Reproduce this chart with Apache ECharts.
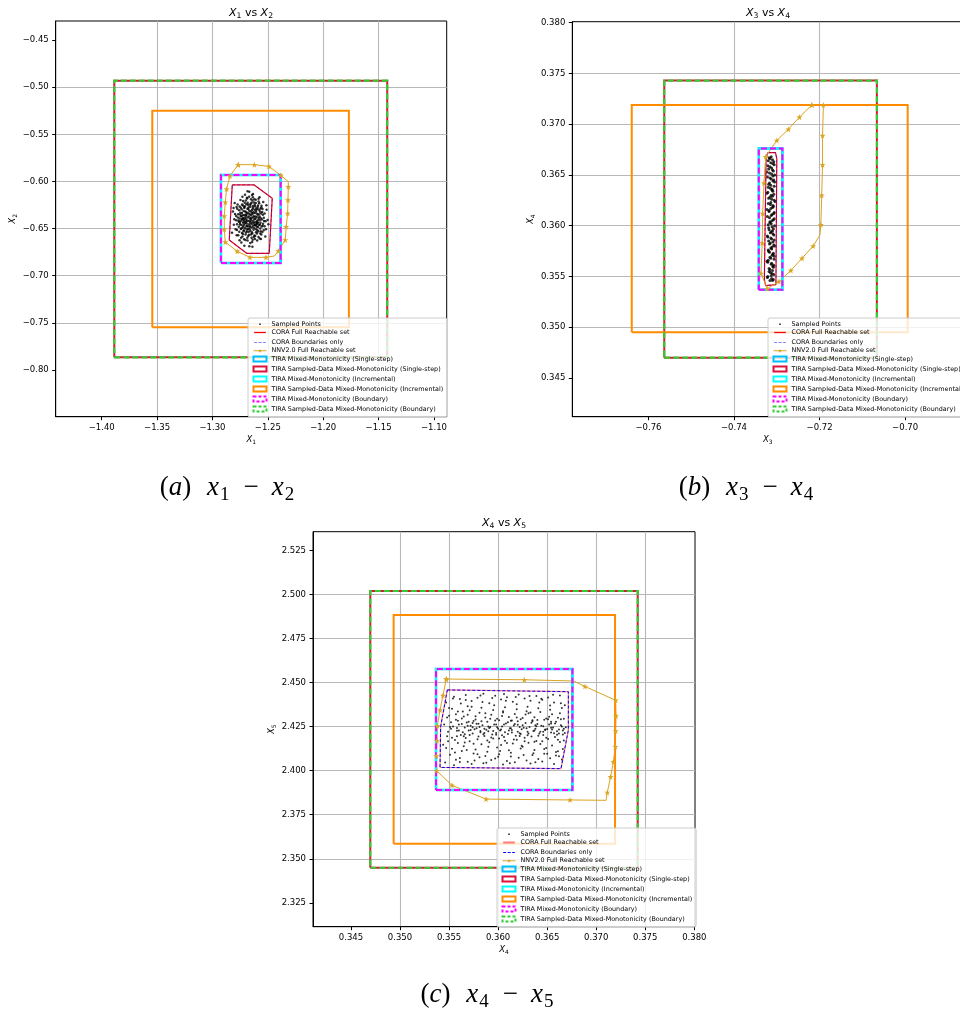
<!DOCTYPE html>
<html><head><meta charset="utf-8">
<script src="https://cdn.jsdelivr.net/npm/echarts@6/dist/echarts.min.js"></script>
<style>html,body{margin:0;padding:0;background:#fff}#c{width:960px;height:1013px}</style>
</head><body><div id="c"></div><script>
const SERIES_NAMES = ['Sampled Points','CORA Full Reachable set','CORA Boundaries only','NNV2.0 Full Reachable set',
 'TIRA Mixed-Monotonicity (Single-step)','TIRA Sampled-Data Mixed-Monotonicity (Single-step)',
 'TIRA Mixed-Monotonicity (Incremental)','TIRA Sampled-Data Mixed-Monotonicity (Incremental)',
 'TIRA Mixed-Monotonicity (Boundary)','TIRA Sampled-Data Mixed-Monotonicity (Boundary)'];

// ---------- Panel (a): x1 vs x2 ----------
const A_X_RANGE = [-1.4415, -1.0885];
const A_Y_RANGE = [-0.8495, -0.4298];
const A_X_TICKS = [-1.40, -1.35, -1.30, -1.25, -1.20, -1.15, -1.10];
const A_Y_TICKS = [-0.80, -0.75, -0.70, -0.65, -0.60, -0.55, -0.50, -0.45];
const A_POINTS = [[-1.2655,-0.6395],[-1.2712,-0.6281],[-1.2598,-0.6452],[-1.2743,-0.6503],[-1.2571,-0.6322],[-1.2689,-0.6174],[-1.2627,-0.6588],[-1.2786,-0.6366],[-1.2534,-0.6419],[-1.2661,-0.6247],[-1.2702,-0.6621],[-1.2583,-0.6213],[-1.2755,-0.6265],[-1.2549,-0.6537],[-1.2678,-0.6478],[-1.2619,-0.6335],[-1.2731,-0.6402],[-1.2642,-0.6143],[-1.2807,-0.6459],[-1.2511,-0.6301],[-1.2695,-0.6354],[-1.2606,-0.6506],[-1.2667,-0.6687],[-1.2724,-0.6208],[-1.2563,-0.6391],[-1.2781,-0.6571],[-1.2637,-0.6432],[-1.2591,-0.6268],[-1.2748,-0.6331],[-1.2529,-0.6474],[-1.2683,-0.6105],[-1.2652,-0.6562],[-1.2716,-0.6517],[-1.2574,-0.6605],[-1.2799,-0.6228],[-1.2622,-0.6189],[-1.2707,-0.6446],[-1.2545,-0.6352],[-1.2676,-0.6293],[-1.2611,-0.6395],[-1.2765,-0.6413],[-1.2588,-0.6483],[-1.2641,-0.6641],[-1.2729,-0.6583],[-1.2502,-0.6408],[-1.2694,-0.6241],[-1.2557,-0.6257],[-1.2815,-0.6318],[-1.2633,-0.6279],[-1.2672,-0.6533],[-1.2598,-0.6551],[-1.2738,-0.6462],[-1.2523,-0.6585],[-1.2669,-0.6161],[-1.2776,-0.6289],[-1.2614,-0.6458],[-1.2701,-0.6378],[-1.2566,-0.6437],[-1.2647,-0.6226],[-1.2755,-0.6624],[-1.2582,-0.6349],[-1.2719,-0.6313],[-1.2629,-0.6512],[-1.2541,-0.6219],[-1.2791,-0.6507],[-1.2685,-0.6596],[-1.2603,-0.6302],[-1.2747,-0.6197],[-1.2517,-0.6506],[-1.2661,-0.6425],[-1.2712,-0.6681],[-1.2575,-0.6168],[-1.2688,-0.6467],[-1.2618,-0.6246],[-1.2768,-0.6349],[-1.2536,-0.6386],[-1.2655,-0.6319],[-1.2733,-0.6547],[-1.2596,-0.6626],[-1.2803,-0.6402],[-1.2643,-0.6487],[-1.2559,-0.6563],[-1.2706,-0.6142],[-1.2627,-0.6369],[-1.2762,-0.6481],[-1.2548,-0.6291],[-1.2681,-0.6381],[-1.2609,-0.6195],[-1.2726,-0.6254],[-1.2495,-0.6455],[-1.2658,-0.6652],[-1.2786,-0.6412],[-1.2585,-0.6404],[-1.2697,-0.6541],[-1.2634,-0.6134],[-1.2744,-0.6369],[-1.2568,-0.6498],[-1.2673,-0.6274],[-1.2621,-0.6574],[-1.2773,-0.6243],[-1.2529,-0.6339],[-1.2665,-0.6508],[-1.2718,-0.6421],[-1.2592,-0.6289],[-1.2652,-0.6188],[-1.2739,-0.6648],[-1.2555,-0.6477],[-1.2694,-0.6325],[-1.2613,-0.6429],[-1.2823,-0.6544],[-1.2578,-0.6232],[-1.2705,-0.6494],[-1.2638,-0.6345],[-1.2758,-0.6532],[-1.2513,-0.6252],[-1.2671,-0.6566],[-1.2601,-0.6378],[-1.2729,-0.6163],[-1.2646,-0.6451],[-1.2782,-0.6272],[-1.2562,-0.6611],[-1.2687,-0.6413],[-1.2625,-0.6223],[-1.2711,-0.6356],[-1.2543,-0.6448],[-1.2667,-0.6108],[-1.2751,-0.6437],[-1.2589,-0.6531],[-1.2639,-0.6692],[-1.2722,-0.6478],[-1.2574,-0.6371],[-1.2796,-0.6345],[-1.2657,-0.6268],[-1.2607,-0.6467],[-1.2736,-0.6296],[-1.2521,-0.6423],[-1.2683,-0.6627],[-1.2631,-0.6415],[-1.2767,-0.6571],[-1.2584,-0.6183],[-1.2699,-0.6203],[-1.2551,-0.6324],[-1.2644,-0.6538],[-1.2714,-0.6391],[-1.2596,-0.6432],[-1.2778,-0.6453],[-1.2675,-0.6336],[-1.2618,-0.6299],[-1.2741,-0.6596],[-1.2537,-0.6517],[-1.2662,-0.6471],[-1.2708,-0.6264],[-1.2579,-0.6462],[-1.2652,-0.6358],[-1.2809,-0.6281],[-1.2617,-0.6611],[-1.2692,-0.6442],[-1.2566,-0.6287],[-1.2724,-0.6359],[-1.2635,-0.6259],[-1.2754,-0.6392],[-1.2601,-0.6341],[-1.2679,-0.6503],
[-1.2651,-0.6412],[-1.2689,-0.6338],[-1.2612,-0.6371],[-1.2703,-0.6432],[-1.2638,-0.6296],[-1.2597,-0.6418],[-1.2726,-0.6387],[-1.2669,-0.6453],[-1.2623,-0.6492],[-1.2711,-0.6271],[-1.2582,-0.6386],[-1.2746,-0.6421],[-1.2654,-0.6237],[-1.2691,-0.6509],[-1.2607,-0.6318],[-1.2733,-0.6334],[-1.2641,-0.6552],[-1.2571,-0.6459],[-1.2698,-0.6399],[-1.2627,-0.6441],[-1.2682,-0.6227],[-1.2593,-0.6517],[-1.2717,-0.6463],[-1.2648,-0.6384],[-1.2759,-0.6305],[-1.2616,-0.6262],[-1.2676,-0.6579],[-1.2561,-0.6341],[-1.2705,-0.6318],[-1.2634,-0.6471],[-1.2741,-0.6498],[-1.2589,-0.6256],[-1.2663,-0.6349],[-1.2725,-0.6558],[-1.2606,-0.6539],[-1.2686,-0.6181],[-1.2553,-0.6404],[-1.2645,-0.6307],[-1.2771,-0.6382],[-1.2619,-0.6398],[-1.2692,-0.6476],[-1.2577,-0.6302],[-1.2732,-0.6243],[-1.2657,-0.6524],[-1.2601,-0.6446],[-1.2715,-0.6405],[-1.2639,-0.6203],[-1.2752,-0.6456],[-1.2584,-0.6588],[-1.2673,-0.6419],[-1.2628,-0.6327],[-1.2701,-0.6562],[-1.2565,-0.6529],[-1.2737,-0.6367],[-1.2647,-0.6597],[-1.2609,-0.6229],[-1.2684,-0.6289],[-1.2723,-0.6439],[-1.2591,-0.6353],[-1.2661,-0.6393],[-1.2779,-0.6515],[-1.2635,-0.6168],[-1.2696,-0.6361],[-1.2547,-0.6471],[-1.2714,-0.6613],[-1.2621,-0.6463],[-1.2668,-0.6311],[-1.2744,-0.6279],[-1.2599,-0.6481],[-1.2656,-0.6437],[-1.2709,-0.6226],[-1.2573,-0.6412],[-1.2687,-0.6531],[-1.2632,-0.6381],[-1.2762,-0.6428],[-1.2614,-0.6579],[-1.2679,-0.6248],[-1.2558,-0.6276],[-1.2728,-0.6491],[-1.2643,-0.6334],[-1.2696,-0.6423],[-1.2587,-0.6437],[-1.2749,-0.6351],[-1.2659,-0.6486],[-1.2604,-0.6285],[-1.2719,-0.6529],[-1.2637,-0.6617],[-1.2672,-0.6372],[-1.2568,-0.6551],[-1.2735,-0.6403]];
const A_CORA = [[-1.2821,-0.6037],[-1.2623,-0.6037],[-1.2460,-0.6179],[-1.2487,-0.6762],[-1.2691,-0.6762],[-1.2848,-0.6621]];
const A_NNV = [[-1.2767,-0.5822],[-1.2622,-0.5822],[-1.2490,-0.5840],[-1.2382,-0.5935],[-1.2315,-0.6002],[-1.2315,-0.6055],[-1.2318,-0.6197],[-1.2321,-0.6338],[-1.2334,-0.6480],[-1.2343,-0.6621],[-1.2406,-0.6738],[-1.2440,-0.6790],[-1.2517,-0.6805],[-1.2661,-0.6805],[-1.2776,-0.6741],[-1.2884,-0.6642],[-1.2893,-0.6508],[-1.2893,-0.6366],[-1.2884,-0.6221],[-1.2872,-0.6080],[-1.2842,-0.5942]];
const A_NNV_BENDS = [4, 11];
const A_MM_SINGLE = [-1.2923, -1.2384, -0.6865, -0.5931];
const A_SD_SINGLE = [-1.3886, -1.1422, -0.7865, -0.4931];
const A_MM_INCR = [-1.2923, -1.2384, -0.6865, -0.5931];
const A_SD_INCR = [-1.3543, -1.1768, -0.7547, -0.5249];
const A_MM_BOUND = [-1.2923, -1.2384, -0.6865, -0.5931];
const A_SD_BOUND = [-1.3886, -1.1422, -0.7865, -0.4931];

// ---------- Panel (b): x3 vs x4 ----------
const B_X_RANGE = [-0.7778, -0.6864];
const B_Y_RANGE = [0.34119, 0.3801];
const B_X_TICKS = [-0.76, -0.74, -0.72, -0.70];
const B_Y_TICKS = [0.345, 0.350, 0.355, 0.360, 0.365, 0.370, 0.375, 0.380];
const B_POINTS = [[-0.7318,0.3667],[-0.7310,0.3665],[-0.7314,0.3662],[-0.7306,0.3660],[-0.7321,0.3659],[-0.7312,0.3657],[-0.7308,0.3654],[-0.7317,0.3652],[-0.7305,0.3650],[-0.7322,0.3648],[-0.7313,0.3646],[-0.7309,0.3644],[-0.7319,0.3641],[-0.7306,0.3639],[-0.7315,0.3637],[-0.7311,0.3635],[-0.7323,0.3632],[-0.7307,0.3631],[-0.7316,0.3628],[-0.7312,0.3626],[-0.7304,0.3624],[-0.7320,0.3622],[-0.7309,0.3620],[-0.7314,0.3617],[-0.7318,0.3615],[-0.7306,0.3613],[-0.7311,0.3611],[-0.7322,0.3609],[-0.7308,0.3606],[-0.7316,0.3604],[-0.7313,0.3602],[-0.7305,0.3600],[-0.7319,0.3598],[-0.7310,0.3595],[-0.7315,0.3593],[-0.7307,0.3591],[-0.7321,0.3589],[-0.7312,0.3587],[-0.7309,0.3584],[-0.7317,0.3582],[-0.7305,0.3580],[-0.7314,0.3578],[-0.7320,0.3576],[-0.7308,0.3573],[-0.7311,0.3571],[-0.7316,0.3569],[-0.7306,0.3567],[-0.7323,0.3565],[-0.7313,0.3562],[-0.7309,0.3560],[-0.7318,0.3558],[-0.7310,0.3556],[-0.7315,0.3554],[-0.7307,0.3552],[-0.7321,0.3550],[-0.7312,0.3548],[-0.7316,0.3546],[-0.7313,0.3668],[-0.7320,0.3664],[-0.7307,0.3663],[-0.7316,0.3658],[-0.7310,0.3655],[-0.7323,0.3653],[-0.7309,0.3649],[-0.7316,0.3647],[-0.7305,0.3643],[-0.7314,0.3640],[-0.7320,0.3638],[-0.7309,0.3634],[-0.7313,0.3630],[-0.7319,0.3627],[-0.7306,0.3625],[-0.7315,0.3621],[-0.7310,0.3618],[-0.7323,0.3616],[-0.7307,0.3612],[-0.7317,0.3608],[-0.7311,0.3605],[-0.7320,0.3601],[-0.7308,0.3597],[-0.7313,0.3594],[-0.7322,0.3590],[-0.7306,0.3586],[-0.7315,0.3583],[-0.7311,0.3579],[-0.7319,0.3575],[-0.7309,0.3572],[-0.7314,0.3568],[-0.7321,0.3564],[-0.7307,0.3561],[-0.7316,0.3557],[-0.7311,0.3553],[-0.7322,0.3549],[-0.7308,0.3547],[-0.7316,0.3666],[-0.7309,0.3661],[-0.7319,0.3656],[-0.7312,0.3651],[-0.7307,0.3645],[-0.7317,0.3642],[-0.7311,0.3636],[-0.7321,0.3633],[-0.7310,0.3629],[-0.7314,0.3623],[-0.7308,0.3619],[-0.7318,0.3614],[-0.7313,0.3610],[-0.7306,0.3607],[-0.7316,0.3603],[-0.7311,0.3599],[-0.7318,0.3596],[-0.7309,0.3592],[-0.7314,0.3588],[-0.7319,0.3585],[-0.7307,0.3581],[-0.7312,0.3577],[-0.7317,0.3574],[-0.7306,0.3570],[-0.7320,0.3566],[-0.7312,0.3563],[-0.7308,0.3559],[-0.7318,0.3555],[-0.7313,0.3551],[-0.7310,0.3546]];
const B_CORA = [[-0.7321,0.3672],[-0.7303,0.3672],[-0.7300,0.3666],[-0.7302,0.3542],[-0.7326,0.3541],[-0.7329,0.3547],[-0.7325,0.3667]];
const B_NNV = [[-0.7218,0.3719],[-0.7191,0.3719],[-0.7193,0.3689],[-0.7193,0.3660],[-0.7195,0.3630],[-0.7197,0.3601],[-0.7199,0.3591],[-0.7215,0.3580],[-0.7241,0.3568],[-0.7267,0.3556],[-0.7295,0.3545],[-0.7322,0.3538],[-0.7337,0.3553],[-0.7334,0.3583],[-0.7333,0.3612],[-0.7330,0.3642],[-0.7326,0.3668],[-0.7300,0.3684],[-0.7273,0.3695],[-0.7247,0.3707]];
const B_NNV_BENDS = [6];
const B_MM_SINGLE = [-0.7342, -0.7287, 0.3537, 0.3676];
const B_SD_SINGLE = [-0.7563, -0.7066, 0.3470, 0.3743];
const B_MM_INCR = [-0.7342, -0.7287, 0.3537, 0.3676];
const B_SD_INCR = [-0.7639, -0.6994, 0.3495, 0.3719];
const B_MM_BOUND = [-0.7342, -0.7287, 0.3537, 0.3676];
const B_SD_BOUND = [-0.7563, -0.7066, 0.3470, 0.3743];

// ---------- Panel (c): x4 vs x5 ----------
const C_X_RANGE = [0.34113, 0.38007];
const C_Y_RANGE = [2.3114, 2.5358];
const C_X_TICKS = [0.345, 0.350, 0.355, 0.360, 0.365, 0.370, 0.375, 0.380];
const C_Y_TICKS = [2.325, 2.350, 2.375, 2.400, 2.425, 2.450, 2.475, 2.500, 2.525];
const C_POINTS = [[0.3547,2.4387],[0.3550,2.4312],[0.3545,2.4263],[0.3552,2.4238],[0.3548,2.4196],[0.3544,2.4148],[0.3551,2.4091],[0.3546,2.4047],
[0.3555,2.4421],[0.3553,2.4352],[0.3557,2.4289],[0.3554,2.4251],[0.3558,2.4227],[0.3556,2.4174],[0.3553,2.4125],[0.3557,2.4063],[0.3555,2.4031],
[0.3561,2.4408],[0.3559,2.4336],[0.3563,2.4297],[0.3560,2.4262],[0.3564,2.4219],[0.3562,2.4203],[0.3559,2.4158],[0.3563,2.4112],[0.3561,2.4072],
[0.3567,2.4431],[0.3569,2.4367],[0.3565,2.4308],[0.3568,2.4274],[0.3566,2.4245],[0.3570,2.4229],[0.3567,2.4186],[0.3565,2.4139],[0.3569,2.4051],
[0.3573,2.4396],[0.3571,2.4343],[0.3575,2.4283],[0.3572,2.4256],[0.3576,2.4236],[0.3574,2.4212],[0.3571,2.4167],[0.3575,2.4098],[0.3573,2.4038],
[0.3579,2.4415],[0.3581,2.4329],[0.3577,2.4291],[0.3580,2.4267],[0.3578,2.4242],[0.3582,2.4218],[0.3579,2.4179],[0.3577,2.4121],[0.3581,2.4077],
[0.3585,2.4437],[0.3583,2.4358],[0.3587,2.4302],[0.3584,2.4259],[0.3588,2.4233],[0.3586,2.4197],[0.3583,2.4151],[0.3587,2.4084],[0.3585,2.4043],
[0.3591,2.4383],[0.3593,2.4318],[0.3589,2.4279],[0.3592,2.4248],[0.3590,2.4224],[0.3594,2.4206],[0.3591,2.4162],[0.3589,2.4108],[0.3593,2.4061],
[0.3597,2.4426],[0.3595,2.4345],[0.3599,2.4296],[0.3596,2.4263],[0.3600,2.4239],[0.3598,2.4215],[0.3595,2.4183],[0.3599,2.4132],[0.3597,2.4069],
[0.3603,2.4405],[0.3605,2.4331],[0.3601,2.4287],[0.3604,2.4252],[0.3602,2.4228],[0.3606,2.4191],[0.3603,2.4146],[0.3601,2.4093],[0.3605,2.4036],
[0.3609,2.4418],[0.3607,2.4361],[0.3611,2.4306],[0.3608,2.4269],[0.3612,2.4241],[0.3610,2.4209],[0.3607,2.4171],[0.3611,2.4117],[0.3609,2.4056],
[0.3615,2.4392],[0.3617,2.4323],[0.3613,2.4284],[0.3616,2.4257],[0.3614,2.4232],[0.3618,2.4199],[0.3615,2.4155],[0.3613,2.4102],[0.3617,2.4048],
[0.3621,2.4433],[0.3619,2.4349],[0.3623,2.4293],[0.3620,2.4261],[0.3624,2.4236],[0.3622,2.4213],[0.3619,2.4176],[0.3623,2.4127],[0.3621,2.4074],
[0.3627,2.4411],[0.3629,2.4338],[0.3625,2.4299],[0.3628,2.4271],[0.3626,2.4244],[0.3630,2.4221],[0.3627,2.4188],[0.3625,2.4136],[0.3629,2.4058],
[0.3633,2.4398],[0.3631,2.4327],[0.3635,2.4281],[0.3632,2.4249],[0.3636,2.4226],[0.3634,2.4194],[0.3631,2.4159],[0.3635,2.4089],[0.3633,2.4041],
[0.3639,2.4424],[0.3641,2.4355],[0.3637,2.4304],[0.3640,2.4266],[0.3638,2.4238],[0.3642,2.4211],[0.3639,2.4169],[0.3637,2.4118],[0.3641,2.4066],
[0.3645,2.4403],[0.3643,2.4334],[0.3647,2.4289],[0.3644,2.4255],[0.3648,2.4231],[0.3646,2.4203],[0.3643,2.4152],[0.3647,2.4097],[0.3645,2.4052],
[0.3651,2.4416],[0.3653,2.4346],[0.3649,2.4297],[0.3652,2.4262],[0.3650,2.4237],[0.3654,2.4217],[0.3651,2.4181],[0.3649,2.4129],[0.3653,2.4071],
[0.3657,2.4388],[0.3655,2.4321],[0.3659,2.4278],[0.3656,2.4246],[0.3660,2.4225],[0.3658,2.4192],[0.3655,2.4143],[0.3659,2.4086],[0.3657,2.4039],
[0.3663,2.4427],[0.3665,2.4357],[0.3661,2.4301],[0.3664,2.4259],[0.3662,2.4234],[0.3666,2.4206],[0.3663,2.4163],[0.3661,2.4111],[0.3665,2.4064],
[0.3668,2.4372],[0.3667,2.4296],[0.3669,2.4247],[0.3668,2.4215],[0.3667,2.4172],[0.3666,2.4123],
[0.3549,2.4221],[0.3558,2.4243],[0.3566,2.4208],[0.3574,2.4271],[0.3582,2.4226],[0.3590,2.4251],[0.3598,2.4204],[0.3606,2.4263],[0.3614,2.4217],[0.3622,2.4248],[0.3630,2.4202],[0.3638,2.4259],[0.3646,2.4221],[0.3654,2.4244],[0.3662,2.4211],[0.3552,2.4275],[0.3569,2.4256],[0.3586,2.4214],[0.3603,2.4235],[0.3620,2.4281],[0.3637,2.4229],[0.3654,2.4268],[0.3667,2.4238],
[0.3548,2.4302],[0.3553,2.4187],[0.3557,2.4321],[0.3560,2.4229],[0.3563,2.4265],[0.3566,2.4161],[0.3569,2.4318],[0.3571,2.4203],[0.3574,2.4247],[0.3577,2.4309],[0.3580,2.4194],[0.3583,2.4281],[0.3586,2.4238],[0.3589,2.4172],[0.3592,2.4295],[0.3595,2.4226],[0.3598,2.4262],[0.3601,2.4183],[0.3604,2.4311],[0.3607,2.4219],[0.3610,2.4276],[0.3613,2.4241],[0.3616,2.4178],[0.3619,2.4302],[0.3622,2.4197],[0.3625,2.4258],[0.3628,2.4319],[0.3631,2.4212],[0.3634,2.4273],[0.3637,2.4165],[0.3640,2.4288],[0.3643,2.4222],[0.3646,2.4253],[0.3649,2.4187],[0.3652,2.4307],[0.3655,2.4235],[0.3658,2.4269],[0.3661,2.4176],[0.3664,2.4292],[0.3666,2.4228],
[0.3550,2.4356],[0.3556,2.4103],[0.3562,2.4382],[0.3568,2.4118],[0.3573,2.4364],[0.3579,2.4093],[0.3584,2.4391],[0.3590,2.4137],[0.3596,2.4372],[0.3602,2.4112],[0.3608,2.4397],[0.3613,2.4081],[0.3619,2.4378],[0.3624,2.4142],[0.3630,2.4363],[0.3636,2.4099],[0.3642,2.4388],[0.3647,2.4124],[0.3653,2.4371],[0.3659,2.4107],[0.3664,2.4384],
[0.3551,2.4249],[0.3559,2.4284],[0.3565,2.4196],[0.3572,2.4231],[0.3578,2.4267],[0.3585,2.4208],[0.3591,2.4243],[0.3597,2.4285],[0.3604,2.4201],[0.3611,2.4228],[0.3617,2.4266],[0.3623,2.4209],[0.3629,2.4241],[0.3635,2.4287],[0.3641,2.4199],[0.3648,2.4234],[0.3654,2.4279],[0.3660,2.4205],[0.3665,2.4252],
[0.3547,2.4129],[0.3554,2.4411],[0.3561,2.4049],[0.3567,2.4402],[0.3576,2.4058],[0.3582,2.4428],[0.3588,2.4046],[0.3594,2.4413],[0.3600,2.4079],[0.3606,2.4436],[0.3612,2.4042],[0.3618,2.4419],[0.3626,2.4089],[0.3632,2.4425],[0.3638,2.4048],[0.3644,2.4409],[0.3650,2.4096],[0.3656,2.4432],[0.3662,2.4083],
[0.3549,2.4168],[0.3558,2.4196],[0.3564,2.4337],[0.3570,2.4279],[0.3575,2.4154],[0.3581,2.4249],[0.3587,2.4326],[0.3593,2.4189],[0.3599,2.4247],[0.3605,2.4338],[0.3609,2.4158],[0.3614,2.4286],[0.3620,2.4222],[0.3627,2.4167],[0.3633,2.4331],[0.3639,2.4253],[0.3645,2.4168],[0.3651,2.4292],[0.3657,2.4213],[0.3663,2.4327]];
const C_CORA = [[0.35482,2.4459],[0.36716,2.4449],[0.36716,2.4231],[0.36641,2.4012],[0.35408,2.4019],[0.35414,2.4250]];
const C_NNV = [[0.35472,2.4521],[0.36267,2.4517],[0.36767,2.4510],[0.36886,2.4479],[0.37198,2.4400],[0.37202,2.4311],[0.37198,2.4226],[0.37195,2.4137],[0.37175,2.4051],[0.37147,2.3966],[0.37113,2.3877],[0.37100,2.3832],[0.36733,2.3834],[0.35877,2.3839],[0.35530,2.3917],[0.35374,2.4000],[0.35370,2.4084],[0.35377,2.4171],[0.35381,2.4256],[0.35408,2.4345],[0.35438,2.4428]];
const C_NNV_BENDS = [2, 11];
const C_MM_SINGLE = [0.35367, 0.36757, 2.3890, 2.4578];
const C_SD_SINGLE = [0.34697, 0.37423, 2.3449, 2.5021];
const C_MM_INCR = [0.35367, 0.36757, 2.3890, 2.4578];
const C_SD_INCR = [0.34935, 0.37192, 2.3585, 2.4885];
const C_MM_BOUND = [0.35367, 0.36757, 2.3890, 2.4578];
const C_SD_BOUND = [0.34697, 0.37423, 2.3449, 2.5021];

// ---------- styling ----------
const FONT = 'DejaVu Sans';
const STAR = 'path://M0,-10L2.35,-3.24L9.51,-3.09L3.8,1.24L5.88,8.09L0,4L-5.88,8.09L-3.8,1.24L-9.51,-3.09L-2.35,-3.24Z';
const DOT_ICON = 'path://M0,0M14,6M6,2L8,2L8,4L6,4Z';
const LINE_ICON = 'path://M0,0M0,6M0,3L14,3';
const NNV_COLOR = '#daa520';
const BOX_STYLES = [
  {color:'#00bfff', width:2.5, type:'solid'},
  {color:'#dc143c', width:2, type:'solid'},
  {color:'#00ffff', width:2, type:'solid'},
  {color:'#ff8c00', width:2, type:'solid'},
  {color:'#ff00ff', width:2, type:[6,3]},
  {color:'#32cd32', width:2.2, type:[6,3]}
];

function rect(b){ return [[b[0],b[2]],[b[1],b[2]],[b[1],b[3]],[b[0],b[3]],[b[0],b[2]]]; }
function closed(p){ return p.concat([p[0]]); }

function panelSeries(g, P){
  const ax = {xAxisIndex:g, yAxisIndex:g, silent:true, animation:false};
  const s = [];
  s.push(Object.assign({type:'scatter', name:SERIES_NAMES[0], data:P.points, symbol:'circle', symbolSize:P.dot, itemStyle:{color:'#000'}}, ax));
  s.push(Object.assign({type:'line', name:SERIES_NAMES[1], data:closed(P.cora), symbol:'none', lineStyle:{color:P.coraFull, width:1.2}}, ax));
  s.push(Object.assign({type:'line', name:SERIES_NAMES[2], data:closed(P.cora), symbol:'none', lineStyle:{color:P.coraBound, width:1, type:[3,2]}}, ax));
  const nnv = closed(P.nnv).map((p,i)=> P.bends.indexOf(i) >= 0 ? {value:p, symbol:'none'} : p);
  s.push(Object.assign({type:'line', name:SERIES_NAMES[3], data:nnv, symbol:STAR, symbolSize:6, showSymbol:true,
    lineStyle:{color:NNV_COLOR, width:1}, itemStyle:{color:NNV_COLOR}}, ax));
  P.boxes.forEach((b, k)=>{
    const st = BOX_STYLES[k];
    s.push(Object.assign({type:'line', name:SERIES_NAMES[4+k], data:rect(b), symbol:'none',
      lineStyle:{color:st.color, width:st.width, type:st.type, join:'miter'}}, ax));
  });
  return s;
}

function legendData(coraFull, coraFullW, coraBound){
  const d = [
    {name:SERIES_NAMES[0], icon:DOT_ICON, itemStyle:{color:'#000', borderWidth:0}},
    {name:SERIES_NAMES[1], icon:LINE_ICON, itemStyle:{color:'none', borderColor:coraFull, borderWidth:coraFullW}},
    {name:SERIES_NAMES[2], icon:LINE_ICON, itemStyle:{color:'none', borderColor:coraBound, borderWidth:1.2, borderType:[3,1.5]}},
    {name:SERIES_NAMES[3], lineStyle:{color:NNV_COLOR, width:1}, itemStyle:{color:NNV_COLOR, borderWidth:0}}
  ];
  BOX_STYLES.forEach((st,k)=>{
    d.push({name:SERIES_NAMES[4+k], icon:'rect', itemStyle:{color:'none', borderColor:st.color, borderWidth:2,
      borderType: st.type === 'solid' ? 'solid' : [3,2]}});
  });
  return d;
}

function legendAt(left, top, data){
  return {left, top, orient:'vertical', itemWidth:13, itemHeight:5, itemGap:0, padding:[3,4,3,3],
    selectedMode:false, backgroundColor:'rgba(255,255,255,0.8)', borderColor:'#cccccc', borderWidth:1, borderRadius:2,
    textStyle:{fontSize:6.4, lineHeight:6.5, fontFamily:FONT, color:'#000'}, data};
}

const subRich = (fs) => ({
  i:{fontStyle:'italic', fontSize:fs, fontFamily:FONT, color:'#000', lineHeight:fs*1.3},
  s:{fontSize:fs*0.7, fontFamily:FONT, color:'#000', lineHeight:fs*0.7, verticalAlign:'bottom'}
});

function fmt(dec){
  return function(v){
    const t = Math.abs(v).toFixed(dec);
    return (v < -1e-12 ? '\u2212' : '') + t;
  };
}

function makeAxis(g, range, ticks, dec, name, nameGap){
  const step = Math.abs(ticks[1] - ticks[0]);
  return {
    gridIndex:g, type:'value', min:range[0], max:range[1], scale:true,
    minInterval:step, maxInterval:step, splitNumber:Math.round((range[1]-range[0])/step),
    axisLine:{show:true, onZero:false, lineStyle:{color:'#000', width:1}},
    axisTick:{show:true, inside:false, length:3.5, customValues:ticks, lineStyle:{color:'#000', width:1}},
    axisLabel:{show:true, margin:7, fontSize:8.5, fontFamily:FONT, color:'#000', customValues:ticks, formatter:fmt(dec)},
    splitLine:{show:true, showMinLine:false, showMaxLine:false, lineStyle:{color:'#b8b8b8', width:1.1}},
    name, nameLocation:'middle', nameGap,
    nameTextStyle:{fontSize:8.5, fontFamily:FONT, color:'#000', rich:subRich(8.5)}
  };
}

const grids = [
  {left:55.7, top:21, width:391, height:395.7},
  {left:572.3, top:21.7, width:391, height:395},
  {left:313, top:531.7, width:382, height:395}
].map(g => Object.assign(g, {show:true, borderColor:'#000', borderWidth:1, backgroundColor:'transparent', containLabel:false, outerBoundsMode:'none'}));

const xAxes = [
  makeAxis(0, A_X_RANGE, A_X_TICKS, 2, '{i|X}{s|1}', 18),
  makeAxis(1, B_X_RANGE, B_X_TICKS, 2, '{i|X}{s|3}', 18),
  makeAxis(2, C_X_RANGE, C_X_TICKS, 3, '{i|X}{s|4}', 18)
];
const yAxes = [
  makeAxis(0, A_Y_RANGE, A_Y_TICKS, 2, '{i|X}{s|2}', 37),
  makeAxis(1, B_Y_RANGE, B_Y_TICKS, 3, '{i|X}{s|4}', 36),
  makeAxis(2, C_Y_RANGE, C_Y_TICKS, 3, '{i|X}{s|5}', 36)
];

const series = [].concat(
  panelSeries(0, {points:A_POINTS, dot:2.5, cora:A_CORA, nnv:A_NNV, bends:A_NNV_BENDS, coraFull:'#ff0000', coraBound:'rgba(0,0,255,0.5)',
    boxes:[A_MM_SINGLE, A_SD_SINGLE, A_MM_INCR, A_SD_INCR, A_MM_BOUND, A_SD_BOUND]}),
  panelSeries(1, {points:B_POINTS, dot:3, cora:B_CORA, nnv:B_NNV, bends:B_NNV_BENDS, coraFull:'#ff0000', coraBound:'rgba(0,0,255,0.5)',
    boxes:[B_MM_SINGLE, B_SD_SINGLE, B_MM_INCR, B_SD_INCR, B_MM_BOUND, B_SD_BOUND]}),
  panelSeries(2, {points:C_POINTS, dot:2, cora:C_CORA, nnv:C_NNV, bends:C_NNV_BENDS, coraFull:'rgba(255,0,0,0.5)', coraBound:'#0000ff',
    boxes:[C_MM_SINGLE, C_SD_SINGLE, C_MM_INCR, C_SD_INCR, C_MM_BOUND, C_SD_BOUND]})
);

function titleText(x, y, a, b){
  return {type:'text', x, y, silent:true, style:{
    text:'{i|X}{s|' + a + '}{t| vs }{i|X}{s|' + b + '}', align:'center', verticalAlign:'middle',
    rich:Object.assign(subRich(11), {t:{fontSize:11, fontFamily:FONT, color:'#000', lineHeight:14}})
  }};
}
const capRich = {
  p:{fontSize:27, fontFamily:'Liberation Serif', color:'#000', lineHeight:34},
  i:{fontSize:27, fontStyle:'italic', fontFamily:'Liberation Serif', color:'#000', lineHeight:34},
  s:{fontSize:19, fontFamily:'Liberation Serif', color:'#000', lineHeight:20, verticalAlign:'bottom', padding:[0,0,0,1]},
  o:{fontSize:27, fontFamily:'Liberation Serif', color:'#000', lineHeight:34, padding:[0,13,0,14]},
  g:{fontSize:27, fontFamily:'Liberation Serif', color:'#000', lineHeight:34, padding:[0,9,0,0]}
};
function caption(x, y, letter, a, b){
  return {type:'text', x, y, silent:true, style:{
    text:'{p|(}{i|' + letter + '}{p|)}{g| }{i|x}{s|' + a + '}{o|\u2212}{i|x}{s|' + b + '}',
    align:'center', verticalAlign:'middle', rich:capRich
  }};
}

const chart = echarts.init(document.getElementById('c'), null, {renderer:'canvas'});
chart.setOption({
  animation:false,
  backgroundColor:'#ffffff',
  grid:grids,
  xAxis:xAxes,
  yAxis:yAxes,
  legend:[
    legendAt(248, 318, legendData('#ff0000', 1.3, 'rgba(0,0,255,0.5)')),
    legendAt(768, 318, legendData('#ff0000', 1.3, 'rgba(0,0,255,0.5)')),
    legendAt(497, 828, legendData('rgba(255,0,0,0.5)', 2, '#0000ff'))
  ],
  tooltip:{show:false},
  series,
  graphic:[
    titleText(251, 13, '1', '2'),
    titleText(768, 13, '3', '4'),
    titleText(504, 523, '4', '5'),
    caption(227, 488, 'a', '1', '2'),
    caption(746, 488, 'b', '3', '4'),
    caption(487, 995, 'c', '4', '5')
  ]
});
</script></body></html>
